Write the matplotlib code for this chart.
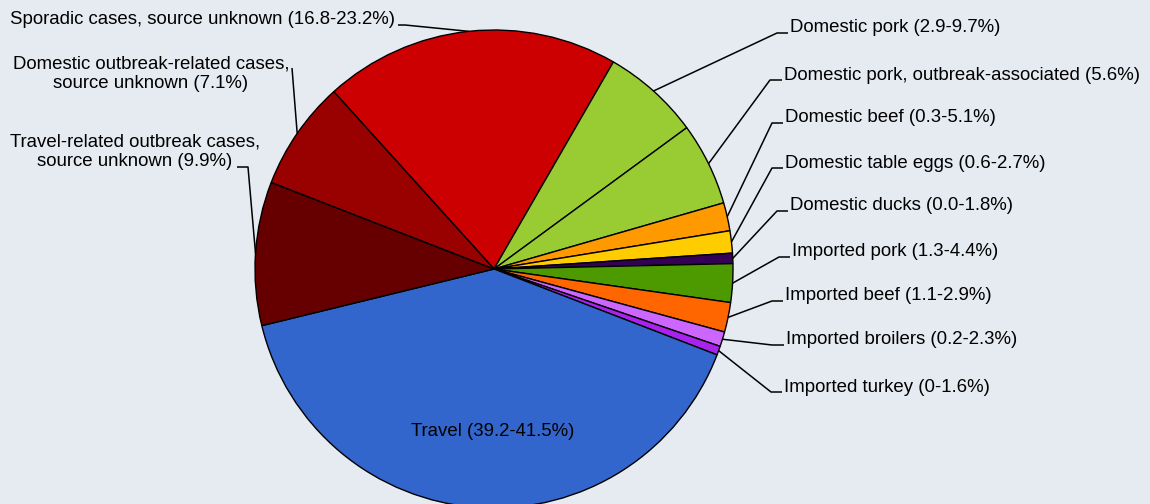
import numpy as np
import matplotlib
matplotlib.use("Agg")
import matplotlib.pyplot as plt

# ---- data ----
categories = [
    "Sporadic cases, source unknown (16.8-23.2%)",
    "Domestic pork (2.9-9.7%)",
    "Domestic pork, outbreak-associated (5.6%)",
    "Domestic beef (0.3-5.1%)",
    "Domestic table eggs (0.6-2.7%)",
    "Domestic ducks (0.0-1.8%)",
    "Imported pork (1.3-4.4%)",
    "Imported beef (1.1-2.9%)",
    "Imported broilers (0.2-2.3%)",
    "Imported turkey (0-1.6%)",
    "Travel (39.2-41.5%)",
    "Travel-related outbreak cases,\nsource unknown (9.9%)",
    "Domestic outbreak-related cases,\nsource unknown (7.1%)",
]
values = [20.0, 6.6, 5.6, 1.9, 1.5, 0.7, 2.6, 2.0, 1.0, 0.6, 40.3, 9.7, 7.4]
colors = ["#CC0000", "#99CC33", "#99CC33", "#FF9900", "#FFCC00", "#330055",
          "#4C9900", "#FF6600", "#CC66FF", "#AA22EE", "#3366CC", "#660000",
          "#990000"]

W, H = 1150, 504
BG = "#E6EBF2"
fig = plt.figure(figsize=(W / 100, H / 100), dpi=100, facecolor=BG)
ax = fig.add_axes([0, 0, 1, 1])
ax.set_facecolor(BG)

def Y(y_img):
    return H - y_img

cx, cy, R = 494, Y(269), 239
wedges, _ = ax.pie(values, colors=colors, startangle=132.1, counterclock=False,
                   center=(cx, cy), radius=R,
                   wedgeprops=dict(edgecolor="black", linewidth=1.0))
ax.set_xlim(0, W)
ax.set_ylim(0, H)
ax.set_aspect("equal")
ax.axis("off")

FS = 13.4
FONT = ["Liberation Sans", "DejaVu Sans"]

# label layout: (text_x, text_y, ha, hline_y, elbow_x, hline_end_x) in image px
layout = {
    0: (395, 20, "right", 25, 405, 398),
    1: (790, 28, "left", 33, 777, 788),
    2: (784, 75, "left", 80, 770, 782),
    3: (785, 117, "left", 123, 772, 783),
    4: (785, 163, "left", 168, 772, 783),
    5: (790, 206, "left", 211, 777, 788),
    6: (792, 252, "left", 257, 779, 790),
    7: (785, 295, "left", 301, 772, 783),
    8: (786, 340, "left", 345, 772, 784),
    9: (784, 388, "left", 392, 771, 782),
    11: (135, 152, "center", 167, 248, 237),
    12: (151, 74, "center", 68, 292, 292),
}

for i, w in enumerate(wedges):
    if i == 10:
        ax.text(493, Y(431), categories[i], ha="center", va="center",
                fontsize=FS, family=FONT, color="black")
        continue
    tx, ty, ha, hy, ex, hx = layout[i]
    mid = np.deg2rad((w.theta1 + w.theta2) / 2)
    px, py = cx + R * np.cos(mid), cy + R * np.sin(mid)
    ax.plot([px, ex, hx], [py, Y(hy), Y(hy)], color="black", lw=1.1,
            solid_capstyle="butt", zorder=3)
    ax.text(tx, Y(ty), categories[i], ha=ha, va="center", fontsize=FS,
            family=FONT, color="black", multialignment="center",
            linespacing=1.22)

fig.savefig("out.png", dpi=100, facecolor=BG)
